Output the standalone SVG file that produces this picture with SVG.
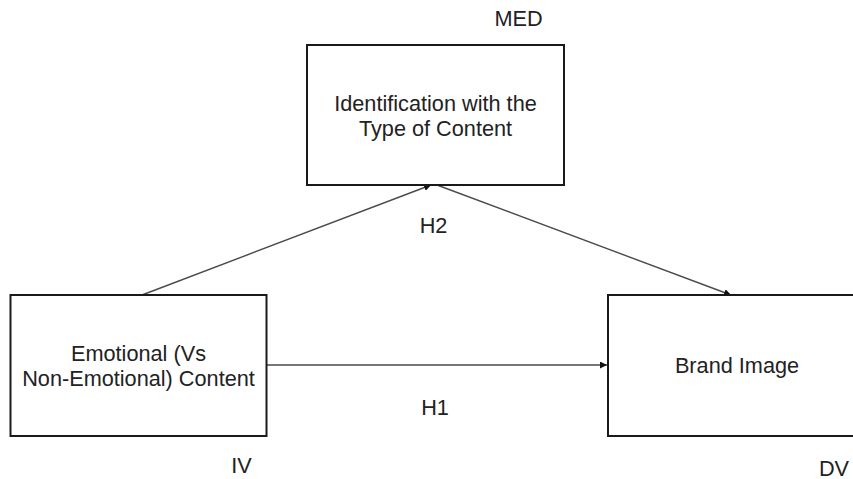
<svg xmlns="http://www.w3.org/2000/svg" width="853" height="479" viewBox="0 0 853 479">
  <style>
    .box { fill: #ffffff; stroke: #1a1a1a; stroke-width: 2; }
    .lbl { font-family: "Liberation Sans", Arial, sans-serif; font-size: 21.7px; fill: #222222; text-anchor: middle; }
    .edge { stroke: #4a4a4a; stroke-width: 1.4; fill: none; marker-end: url(#arrow); }
  </style>
  <defs>
    <marker id="arrow" viewBox="0 0 10 10" refX="10" refY="5" markerWidth="7" markerHeight="7" markerUnits="userSpaceOnUse" orient="auto">
      <path d="M0,0 L10,5 L0,10 z" fill="#111111"/>
    </marker>
  </defs>
  <rect width="853" height="479" fill="#ffffff"/>

  <g id="connectors">
    <line class="edge" x1="142" y1="295" x2="431" y2="185"/>
    <line class="edge" x1="437" y1="185" x2="731" y2="295"/>
    <line class="edge" x1="267" y1="365" x2="607" y2="365"/>
  </g>

  <g id="mediator">
    <rect class="box" x="307" y="45" width="257" height="140"/>
    <text class="lbl" x="435.5" y="110.5">Identification with the</text>
    <text class="lbl" x="435.5" y="136">Type of Content</text>
    <text class="lbl" x="518.5" y="25.5">MED</text>
  </g>

  <g id="independent">
    <rect class="box" x="10.5" y="295" width="256" height="141"/>
    <text class="lbl" x="138.5" y="360.5">Emotional (Vs</text>
    <text class="lbl" x="138.5" y="386">Non-Emotional) Content</text>
    <text class="lbl" x="241.5" y="473">IV</text>
  </g>

  <g id="dependent">
    <rect class="box" x="608" y="295" width="258" height="141"/>
    <text class="lbl" x="834" y="475.5">DV</text>
    <text class="lbl" x="737" y="373">Brand Image</text>
  </g>

  <g id="hypotheses">
    <text class="lbl" x="433.5" y="233">H2</text>
    <text class="lbl" x="435" y="415">H1</text>
  </g>
</svg>
